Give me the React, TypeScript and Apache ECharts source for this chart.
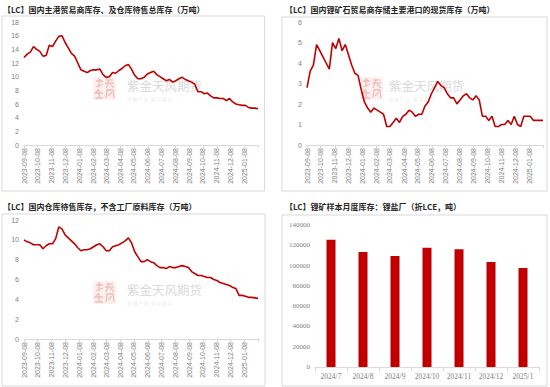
import React, { useEffect, useRef } from "react";
import * as echarts from "echarts";

// ---------- data ----------
const startDate = "2023-09-08";
const monthTicks = [
  "2023-09-08", "2023-10-08", "2023-11-08", "2023-12-08", "2024-01-08", "2024-02-08",
  "2024-03-08", "2024-04-08", "2024-05-08", "2024-06-08", "2024-07-08", "2024-08-08",
  "2024-09-08", "2024-10-08", "2024-11-08", "2024-12-08", "2025-01-08",
];

// 国内主港贸易商库存、及仓库待售总库存（万吨） weekly
const totalInventory = [
  12.8, 13.3, 13.6, 14.4, 14.0, 13.7, 13.0, 13.1, 14.6, 14.4,
  15.2, 15.9, 16.0, 15.0, 14.2, 13.4, 13.0, 12.0, 11.0, 10.8,
  10.6, 10.9, 11.0, 11.0, 11.1, 10.3, 9.9, 10.0, 10.6, 10.5,
  10.9, 11.2, 11.6, 11.8, 11.1, 10.2, 9.7, 9.7, 9.9, 10.4,
  10.6, 10.8, 10.3, 10.0, 9.7, 9.4, 9.6, 9.2, 9.4, 9.7,
  9.9, 9.6, 9.4, 9.2, 8.9, 7.8, 7.8, 7.5, 7.6, 7.2,
  6.9, 6.9, 6.8, 6.8, 6.5, 6.8, 6.3, 6.0, 5.9, 5.8,
  5.8, 5.5, 5.4, 5.4, 5.3,
];

// 国内锂矿石贸易商存储主要港口的现货库存（万吨） weekly
const oreInventory = [
  2.8, 3.6, 3.9, 4.9, 4.6, 4.3, 4.0, 3.7, 5.0, 4.7,
  5.2, 4.6, 4.9, 4.4, 3.9, 3.5, 3.4, 2.7, 2.1, 1.8,
  1.6, 1.8, 1.7, 1.6, 1.5, 0.9, 0.9, 1.1, 1.3, 1.1,
  1.4, 1.5, 1.7, 1.6, 1.4, 1.5, 1.5, 1.9, 2.1, 2.5,
  2.8, 3.1, 2.9, 2.8, 2.5, 2.3, 2.3, 2.0, 2.2, 2.4,
  2.5, 2.3, 2.2, 2.4, 2.2, 1.4, 1.4, 1.2, 1.4, 0.9,
  0.9, 1.0, 1.0, 1.2, 1.0, 1.4, 1.0, 0.9, 1.4, 1.4,
  1.4, 1.2, 1.2, 1.2, 1.2,
];

// 国内仓库待售库存，不含工厂原料库存（万吨） weekly
const warehouseInventory = [
  10.0, 9.8, 9.7, 9.5, 9.5, 9.5, 9.1, 9.4, 9.6, 9.6,
  10.1, 11.3, 11.1, 10.5, 10.2, 9.9, 9.6, 9.2, 8.9, 9.0,
  9.0, 9.1, 9.3, 9.5, 9.6, 9.3, 8.9, 8.9, 9.3, 9.4,
  9.5, 9.7, 9.9, 10.2, 9.7, 8.8, 8.3, 7.8, 7.8, 8.0,
  7.8, 7.7, 7.4, 7.2, 7.2, 7.1, 7.3, 7.2, 7.2, 7.3,
  7.4, 7.3, 7.2, 6.8, 6.6, 6.4, 6.4, 6.3, 6.2, 6.2,
  6.0, 5.9, 5.7, 5.6, 5.5, 5.4, 5.2, 5.1, 4.4, 4.4,
  4.3, 4.2, 4.2, 4.15, 4.1,
];

// 锂矿样本月度库存：锂盐厂（折LCE，吨）
const barCategories = ["2024/7", "2024/8", "2024/9", "2024/10", "2024/11", "2024/12", "2025/1"];
const barValues = [125500, 113500, 109500, 117500, 116000, 103500, 97500];

const titles = [
  "【LC】国内主港贸易商库存、及仓库待售总库存（万吨）",
  "【LC】国内锂矿石贸易商存储主要港口的现货库存（万吨）",
  "【LC】国内仓库待售库存，不含工厂原料库存（万吨）",
  "【LC】锂矿样本月度库存：锂盐厂（折LCE，吨）",
];

// ---------- helpers ----------
const RED = "#C00000";
const AXIS_GRAY = "#d9d9d9";
const LABEL_GRAY = "#808080";
const DAY = 86400000;

function ts(s: string) {
  const [y, m, d] = s.split("-").map(Number);
  return Date.UTC(y, m - 1, d);
}
const t0 = ts(startDate);
// x positions are days since the start date
function dayOf(s: string) {
  return Math.round((ts(s) - t0) / DAY);
}
function fmtDay(v: number) {
  const d = new Date(t0 + Math.round(v) * DAY);
  const p = (n: number) => String(n).padStart(2, "0");
  return `${d.getUTCFullYear()}-${p(d.getUTCMonth() + 1)}-${p(d.getUTCDate())}`;
}

const weekDays = totalInventory.map((_, i) => i * 7);
const dEnd = weekDays[weekDays.length - 1];
const tickDays = monthTicks.map(dayOf);

function dayXAxis(gridIndex: number) {
  return {
    type: "value",
    gridIndex,
    min: 0,
    max: dEnd,
    axisLine: { show: true, onZero: false, lineStyle: { color: AXIS_GRAY, width: 1 } },
    axisTick: { show: true, length: 3, lineStyle: { color: AXIS_GRAY }, customValues: [...tickDays, dEnd] },
    axisLabel: {
      customValues: tickDays,
      formatter: (v: number) => fmtDay(v),
      rotate: 90,
      margin: 3,
      color: LABEL_GRAY,
      fontSize: 7,
      fontFamily: "Liberation Sans",
      showMinLabel: true,
      showMaxLabel: true,
    },
    splitLine: { show: false },
  };
}

function valYAxis(gridIndex: number, max: number, interval: number, family = "Liberation Sans") {
  return {
    type: "value",
    gridIndex,
    min: 0,
    max,
    interval,
    axisLine: { show: false },
    axisTick: { show: false },
    splitLine: { show: false },
    axisLabel: {
      color: LABEL_GRAY,
      fontSize: 7,
      margin: 5,
      fontFamily: family,
      formatter: (v: number) => String(v),
    },
  };
}

function lineSeries(idx: number, values: number[]) {
  return {
    type: "line",
    xAxisIndex: idx,
    yAxisIndex: idx,
    data: values.map((v, i) => [weekDays[i], v]),
    showSymbol: false,
    symbol: "none",
    smooth: false,
    lineStyle: { color: RED, width: 1.6 },
    itemStyle: { color: RED },
    z: 5,
  };
}

function titleText(x: number, y: number, text: string) {
  return {
    type: "text",
    x,
    y,
    z: 10,
    style: {
      text,
      fill: "#262626",
      fontSize: 8,
      fontWeight: "bold",
      fontFamily: "Noto Sans CJK SC",
      verticalAlign: "middle",
    },
  };
}

function border(x: number, y: number, w: number, h: number) {
  return {
    type: "rect",
    z: 0,
    shape: { x, y, width: w, height: h },
    style: { fill: "none", stroke: AXIS_GRAY, lineWidth: 1 },
    silent: true,
  };
}

// decorative seal logo (an image in the original), drawn with strokes only
function sealStrokes() {
  const c = "#f0bcb8";
  const s = { stroke: c, lineWidth: 1.3, fill: "none" };
  return [
    { type: "polyline", shape: { points: [[3, 4], [9, 4], [6, 2], [6, 10]] }, style: s },
    { type: "polyline", shape: { points: [[3, 10], [10, 7]] }, style: s },
    { type: "polyline", shape: { points: [[13, 3], [20, 3]] }, style: s },
    { type: "polyline", shape: { points: [[12, 6], [21, 6]] }, style: s },
    { type: "polyline", shape: { points: [[16, 3], [13, 11]] }, style: s },
    { type: "polyline", shape: { points: [[17, 7], [21, 11]] }, style: s },
    { type: "polyline", shape: { points: [[6, 12], [2, 16], [10, 16]] }, style: s },
    { type: "polyline", shape: { points: [[6, 13], [6, 21], [2, 21], [10, 21]] }, style: s },
    { type: "polyline", shape: { points: [[13, 21], [14, 13], [20, 13], [21, 21]] }, style: s },
    { type: "polyline", shape: { points: [[15, 19], [19, 15]] }, style: s },
  ];
}

function watermark(x: number, y: number, textDx: number) {
  return {
    type: "group",
    x,
    y,
    z: 1,
    silent: true,
    children: [
      { type: "rect", shape: { x: 0, y: 0, width: 23, height: 23, r: 2 }, style: { fill: "#fdf1f0" } },
      ...sealStrokes(),
      {
        type: "text",
        x: textDx,
        y: 8,
        style: {
          text: "紫金天风期货",
          fill: "#dadada",
          fontSize: 12.5,
          fontFamily: "Noto Sans CJK SC",
          verticalAlign: "middle",
        },
      },
      {
        type: "text",
        x: textDx,
        y: 22,
        style: {
          text: "金 融 产 业   研 究 驱 动",
          fill: "#ececec",
          fontSize: 4.5,
          fontFamily: "Noto Sans CJK SC",
          verticalAlign: "middle",
        },
      },
    ],
  };
}

export default function App() {
  const ref = useRef<HTMLDivElement>(null);

  useEffect(() => {
    if (!ref.current) return;
    const chart = echarts.init(ref.current, null, { renderer: "svg" });

    const option: any = {
      animation: false,
      backgroundColor: "#ffffff",
      grid: [
        { left: 24, top: 22, width: 234, height: 123, outerBoundsMode: "none" },
        { left: 307, top: 22, width: 236, height: 123, outerBoundsMode: "none" },
        { left: 24, top: 220, width: 234, height: 119, outerBoundsMode: "none" },
        { left: 315, top: 225, width: 224, height: 142, outerBoundsMode: "none" },
      ],
      xAxis: [
        dayXAxis(0),
        dayXAxis(1),
        dayXAxis(2),
        {
          type: "category",
          gridIndex: 3,
          data: barCategories,
          boundaryGap: true,
          axisLine: { show: true, lineStyle: { color: AXIS_GRAY } },
          axisTick: { show: true, length: 4, alignWithLabel: false, lineStyle: { color: AXIS_GRAY } },
          axisLabel: { color: LABEL_GRAY, fontSize: 7.5, margin: 5, fontFamily: "Liberation Serif", interval: 0 },
          splitLine: { show: false },
        },
      ],
      yAxis: [
        valYAxis(0, 18, 2),
        valYAxis(1, 6, 1),
        valYAxis(2, 12, 2),
        valYAxis(3, 140000, 20000, "Liberation Serif"),
      ],
      series: [
        lineSeries(0, totalInventory),
        lineSeries(1, oreInventory),
        lineSeries(2, warehouseInventory),
        {
          type: "bar",
          xAxisIndex: 3,
          yAxisIndex: 3,
          data: barValues,
          barWidth: 9,
          itemStyle: { color: RED },
          z: 5,
        },
      ],
      graphic: [
        border(2, 16, 262.5, 175),
        border(282, 17, 265, 174),
        border(2, 214, 263, 172),
        border(282, 215, 265, 171),
        titleText(3, 9, titles[0]),
        titleText(285, 9, titles[1]),
        titleText(3, 206, titles[2]),
        titleText(285, 206, titles[3]),
        watermark(93, 77, 34),
        watermark(360, 77, 29),
        watermark(93, 281, 34),
      ],
    };

    chart.setOption(option);
    return () => chart.dispose();
  }, []);

  return (
    <div
      ref={ref}
      style={{ position: "fixed", left: 0, top: 0, width: 550, height: 387, background: "#fff" }}
    />
  );
}
